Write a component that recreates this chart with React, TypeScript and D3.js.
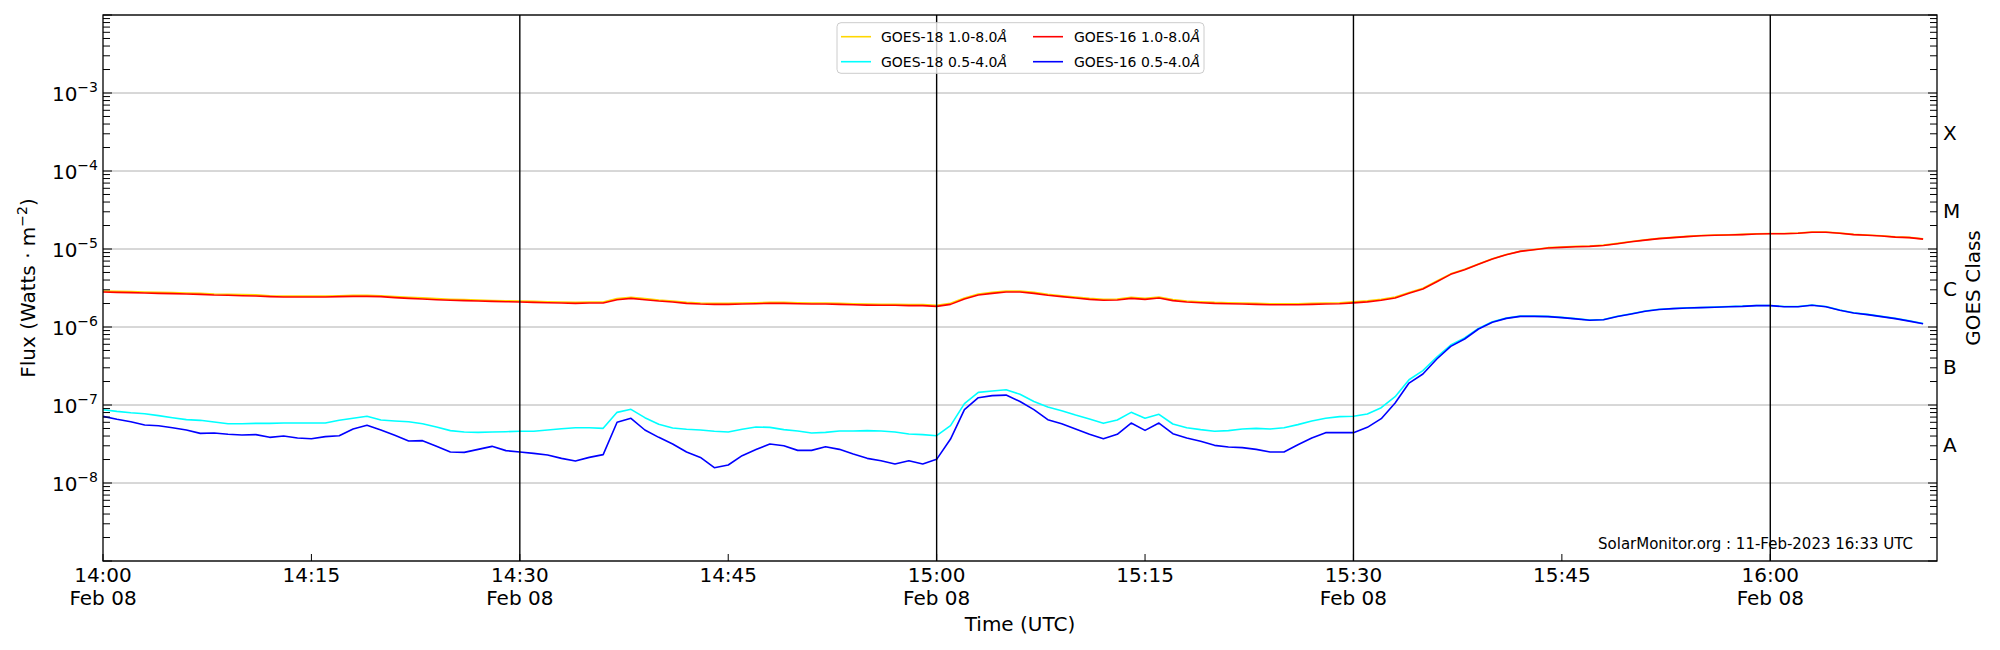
import React from "react";
import * as d3 from "d3";

// ---- data (1-minute samples starting 2023-02-08 14:00 UTC) ----
const START = Date.UTC(2023, 1, 8, 14, 0);

const goes18Long = [
  2.89e-6, 2.86e-6, 2.84e-6, 2.81e-6, 2.78e-6, 2.76e-6, 2.73e-6, 2.70e-6, 2.65e-6, 2.63e-6,
  2.60e-6, 2.58e-6, 2.52e-6, 2.49e-6, 2.49e-6, 2.49e-6, 2.49e-6, 2.52e-6, 2.54e-6, 2.54e-6,
  2.52e-6, 2.45e-6, 2.40e-6, 2.36e-6, 2.31e-6, 2.27e-6, 2.25e-6, 2.21e-6, 2.19e-6, 2.17e-6,
  2.15e-6, 2.13e-6, 2.11e-6, 2.09e-6, 2.07e-6, 2.09e-6, 2.09e-6, 2.31e-6, 2.40e-6, 2.31e-6,
  2.21e-6, 2.15e-6, 2.07e-6, 2.03e-6, 2.01e-6, 2.01e-6, 2.03e-6, 2.05e-6, 2.07e-6, 2.07e-6,
  2.05e-6, 2.03e-6, 2.03e-6, 2.01e-6, 1.99e-6, 1.97e-6, 1.96e-6, 1.96e-6, 1.94e-6, 1.94e-6,
  1.90e-6, 2.01e-6, 2.36e-6, 2.65e-6, 2.78e-6, 2.89e-6, 2.89e-6, 2.78e-6, 2.63e-6, 2.52e-6,
  2.42e-6, 2.33e-6, 2.27e-6, 2.29e-6, 2.40e-6, 2.33e-6, 2.42e-6, 2.25e-6, 2.15e-6, 2.11e-6,
  2.07e-6, 2.05e-6, 2.03e-6, 2.01e-6, 1.99e-6, 1.99e-6, 1.99e-6, 2.01e-6, 2.03e-6, 2.05e-6,
  2.10e-6, 2.16e-6, 2.27e-6, 2.42e-6, 2.76e-6, 3.14e-6, 3.88e-6, 4.80e-6, 5.50e-6, 6.42e-6,
  7.50e-6, 8.50e-6, 9.38e-6, 9.85e-6, 1.04e-5, 1.06e-5, 1.08e-5, 1.09e-5, 1.12e-5, 1.18e-5,
  1.25e-5, 1.31e-5, 1.37e-5, 1.41e-5, 1.45e-5, 1.49e-5, 1.51e-5, 1.52e-5, 1.54e-5, 1.57e-5,
  1.58e-5, 1.58e-5, 1.60e-5, 1.65e-5, 1.65e-5, 1.60e-5, 1.54e-5, 1.51e-5, 1.48e-5, 1.43e-5,
  1.41e-5, 1.35e-5,
];

const goes18Short = [
  8.71e-8, 8.29e-8, 7.97e-8, 7.74e-8, 7.30e-8, 6.88e-8, 6.49e-8, 6.36e-8, 6.05e-8, 5.76e-8,
  5.76e-8, 5.82e-8, 5.82e-8, 5.87e-8, 5.87e-8, 5.87e-8, 5.87e-8, 6.36e-8, 6.75e-8, 7.16e-8,
  6.42e-8, 6.24e-8, 6.11e-8, 5.76e-8, 5.22e-8, 4.69e-8, 4.51e-8, 4.46e-8, 4.51e-8, 4.55e-8,
  4.60e-8, 4.60e-8, 4.78e-8, 4.97e-8, 5.12e-8, 5.12e-8, 5.02e-8, 8.05e-8, 8.80e-8, 6.88e-8,
  5.65e-8, 5.07e-8, 4.88e-8, 4.78e-8, 4.60e-8, 4.51e-8, 4.88e-8, 5.22e-8, 5.17e-8, 4.83e-8,
  4.64e-8, 4.38e-8, 4.46e-8, 4.64e-8, 4.64e-8, 4.69e-8, 4.64e-8, 4.51e-8, 4.25e-8, 4.17e-8,
  4.04e-8, 5.43e-8, 1.04e-7, 1.45e-7, 1.51e-7, 1.57e-7, 1.37e-7, 1.11e-7, 9.43e-8, 8.46e-8,
  7.44e-8, 6.62e-8, 5.82e-8, 6.42e-8, 8.05e-8, 6.75e-8, 7.59e-8, 5.71e-8, 5.12e-8, 4.83e-8,
  4.60e-8, 4.69e-8, 4.92e-8, 5.02e-8, 4.92e-8, 5.12e-8, 5.60e-8, 6.24e-8, 6.75e-8, 7.09e-8,
  7.16e-8, 7.67e-8, 9.24e-8, 1.28e-7, 2.11e-7, 2.76e-7, 4.12e-7, 5.87e-7, 7.23e-7, 9.61e-7,
  1.17e-6, 1.30e-6, 1.38e-6, 1.38e-6, 1.37e-6, 1.33e-6, 1.28e-6, 1.23e-6, 1.25e-6, 1.37e-6,
  1.48e-6, 1.60e-6, 1.69e-6, 1.73e-6, 1.76e-6, 1.78e-6, 1.80e-6, 1.83e-6, 1.85e-6, 1.89e-6,
  1.89e-6, 1.83e-6, 1.83e-6, 1.91e-6, 1.83e-6, 1.65e-6, 1.52e-6, 1.45e-6, 1.37e-6, 1.29e-6,
  1.20e-6, 1.11e-6,
];

const goes16Long = [
  2.81e-6, 2.78e-6, 2.76e-6, 2.73e-6, 2.70e-6, 2.68e-6, 2.65e-6, 2.62e-6, 2.57e-6, 2.55e-6,
  2.52e-6, 2.50e-6, 2.45e-6, 2.42e-6, 2.42e-6, 2.42e-6, 2.42e-6, 2.45e-6, 2.47e-6, 2.47e-6,
  2.45e-6, 2.38e-6, 2.33e-6, 2.29e-6, 2.24e-6, 2.20e-6, 2.18e-6, 2.15e-6, 2.13e-6, 2.11e-6,
  2.09e-6, 2.07e-6, 2.05e-6, 2.03e-6, 2.01e-6, 2.03e-6, 2.03e-6, 2.24e-6, 2.33e-6, 2.24e-6,
  2.15e-6, 2.09e-6, 2.01e-6, 1.97e-6, 1.95e-6, 1.95e-6, 1.97e-6, 1.99e-6, 2.01e-6, 2.01e-6,
  1.99e-6, 1.97e-6, 1.97e-6, 1.95e-6, 1.93e-6, 1.91e-6, 1.90e-6, 1.90e-6, 1.88e-6, 1.88e-6,
  1.84e-6, 1.95e-6, 2.29e-6, 2.57e-6, 2.70e-6, 2.81e-6, 2.81e-6, 2.70e-6, 2.55e-6, 2.45e-6,
  2.35e-6, 2.26e-6, 2.20e-6, 2.22e-6, 2.33e-6, 2.26e-6, 2.35e-6, 2.18e-6, 2.09e-6, 2.05e-6,
  2.01e-6, 1.99e-6, 1.97e-6, 1.95e-6, 1.93e-6, 1.93e-6, 1.93e-6, 1.95e-6, 1.97e-6, 1.99e-6,
  2.04e-6, 2.10e-6, 2.20e-6, 2.35e-6, 2.70e-6, 3.07e-6, 3.81e-6, 4.73e-6, 5.43e-6, 6.36e-6,
  7.44e-6, 8.46e-6, 9.33e-6, 9.80e-6, 1.03e-5, 1.05e-5, 1.07e-5, 1.08e-5, 1.11e-5, 1.17e-5,
  1.24e-5, 1.30e-5, 1.36e-5, 1.40e-5, 1.44e-5, 1.48e-5, 1.50e-5, 1.51e-5, 1.53e-5, 1.56e-5,
  1.57e-5, 1.57e-5, 1.59e-5, 1.64e-5, 1.64e-5, 1.59e-5, 1.53e-5, 1.50e-5, 1.47e-5, 1.42e-5,
  1.40e-5, 1.34e-5,
];

const goes16Short = [
  7.16e-8, 6.55e-8, 6.11e-8, 5.54e-8, 5.43e-8, 5.12e-8, 4.78e-8, 4.33e-8, 4.38e-8, 4.21e-8,
  4.12e-8, 4.17e-8, 3.85e-8, 4.00e-8, 3.78e-8, 3.70e-8, 3.93e-8, 4.04e-8, 4.92e-8, 5.49e-8,
  4.78e-8, 4.08e-8, 3.46e-8, 3.49e-8, 2.95e-8, 2.50e-8, 2.47e-8, 2.70e-8, 2.95e-8, 2.60e-8,
  2.50e-8, 2.40e-8, 2.29e-8, 2.07e-8, 1.91e-8, 2.13e-8, 2.31e-8, 6.00e-8, 6.75e-8, 4.78e-8,
  3.85e-8, 3.16e-8, 2.50e-8, 2.13e-8, 1.57e-8, 1.70e-8, 2.24e-8, 2.68e-8, 3.16e-8, 3.01e-8,
  2.62e-8, 2.62e-8, 2.92e-8, 2.70e-8, 2.35e-8, 2.07e-8, 1.93e-8, 1.75e-8, 1.93e-8, 1.75e-8,
  2.01e-8, 3.66e-8, 8.71e-8, 1.24e-7, 1.32e-7, 1.34e-7, 1.11e-7, 8.71e-8, 6.49e-8, 5.76e-8,
  4.92e-8, 4.21e-8, 3.70e-8, 4.21e-8, 5.87e-8, 4.73e-8, 5.87e-8, 4.29e-8, 3.78e-8, 3.42e-8,
  3.04e-8, 2.89e-8, 2.84e-8, 2.70e-8, 2.50e-8, 2.50e-8, 3.10e-8, 3.78e-8, 4.42e-8, 4.42e-8,
  4.42e-8, 5.17e-8, 6.68e-8, 1.06e-7, 1.91e-7, 2.50e-7, 3.89e-7, 5.65e-7, 7.02e-7, 9.43e-7,
  1.15e-6, 1.29e-6, 1.37e-6, 1.37e-6, 1.36e-6, 1.32e-6, 1.27e-6, 1.22e-6, 1.24e-6, 1.36e-6,
  1.47e-6, 1.59e-6, 1.68e-6, 1.72e-6, 1.75e-6, 1.77e-6, 1.79e-6, 1.82e-6, 1.84e-6, 1.88e-6,
  1.88e-6, 1.82e-6, 1.82e-6, 1.90e-6, 1.82e-6, 1.64e-6, 1.51e-6, 1.44e-6, 1.36e-6, 1.28e-6,
  1.19e-6, 1.10e-6,
];

const seriesNames = ["GOES-18 1.0-8.0", "GOES-18 0.5-4.0", "GOES-16 1.0-8.0", "GOES-16 0.5-4.0"];
const seriesColors = ["#ffd700", "#00ffff", "#ff0000", "#0000ff"];
const seriesData = [goes18Long, goes18Short, goes16Long, goes16Short];

const xTickMinutes = [0, 15, 30, 45, 60, 75, 90, 105, 120];
const vLineMinutes = [30, 60, 90, 120];
const yDecades = [-8, -7, -6, -5, -4, -3];
const classLabels = ["A", "B", "C", "M", "X"];
const classExponents = [-7.5, -6.5, -5.5, -4.5, -3.5];

const W = 2000;
const H = 650;
const L = 103;
const R = 1937;
const T = 15;
const B = 561;
const FONT = "DejaVu Sans, sans-serif";

export default function App() {
  const x = d3
    .scaleUtc()
    .domain([new Date(START), new Date(START + 132 * 60000)])
    .range([L, R]);
  const y = d3.scaleLog().domain([1e-9, 1e-2]).range([B, T]);

  const times = goes16Long.map((_, i) => new Date(START + i * 60000));
  const line = d3
    .line<number>()
    .x((_, i) => x(times[i]))
    .y((v) => y(v));

  const minorTicks: number[] = [];
  for (let e = -9; e < -2; e++) {
    for (let k = 2; k <= 9; k++) minorTicks.push(k * Math.pow(10, e));
  }
  const majorTicks: number[] = [];
  for (let e = -9; e <= -2; e++) majorTicks.push(Math.pow(10, e));

  const fmt = d3.utcFormat("%H:%M");

  return (
    <svg
      width={W}
      height={H}
      style={{ position: "absolute", left: 0, top: 0, background: "#fff" }}
      fontFamily={FONT}
    >
      <rect x={0} y={0} width={W} height={H} fill="#fff" />
      <defs>
        <clipPath id="plot">
          <rect x={L} y={T} width={R - L} height={B - T} />
        </clipPath>
      </defs>

      {/* grid */}
      {majorTicks.map((v, i) => (
        <line key={"g" + i} x1={L} x2={R} y1={y(v)} y2={y(v)} stroke="#b0b0b0" strokeWidth={1} />
      ))}

      {/* data */}
      <g clipPath="url(#plot)">
        {seriesData.map((s, i) => (
          <path
            key={"s" + i}
            d={line(s) || ""}
            fill="none"
            stroke={seriesColors[i]}
            strokeWidth={1.6}
            strokeLinejoin="round"
          />
        ))}
      </g>

      {/* vertical black lines */}
      {vLineMinutes.map((m) => {
        const xx = x(new Date(START + m * 60000));
        return <line key={"v" + m} x1={xx} x2={xx} y1={T} y2={B} stroke="#000" strokeWidth={1.4} />;
      })}

      {/* y ticks left and right */}
      {minorTicks.map((v, i) => (
        <g key={"mt" + i}>
          <line x1={L} x2={L + 7} y1={y(v)} y2={y(v)} stroke="#000" strokeWidth={1} />
          <line x1={R - 7} x2={R} y1={y(v)} y2={y(v)} stroke="#000" strokeWidth={1} />
        </g>
      ))}
      {majorTicks.map((v, i) => (
        <g key={"Mt" + i}>
          <line x1={L} x2={L + 9} y1={y(v)} y2={y(v)} stroke="#000" strokeWidth={1} />
          <line x1={R - 9} x2={R} y1={y(v)} y2={y(v)} stroke="#000" strokeWidth={1} />
        </g>
      ))}

      {/* y tick labels */}
      {yDecades.map((e) => (
        <text key={"yl" + e} x={98} y={y(Math.pow(10, e)) + 7.5} textAnchor="end" fontSize={20} fill="#000">
          10
          <tspan dy={-9} fontSize={14}>
            {"\u2212" + Math.abs(e)}
          </tspan>
        </text>
      ))}

      {/* GOES class labels */}
      {classLabels.map((c, i) => (
        <text key={"c" + c} x={R + 6} y={y(Math.pow(10, classExponents[i])) + 7.5} fontSize={20} fill="#000">
          {c}
        </text>
      ))}

      {/* x ticks */}
      {xTickMinutes.map((m) => {
        const t = new Date(START + m * 60000);
        const xx = x(t);
        const showDate = m % 30 === 0;
        return (
          <g key={"xt" + m}>
            <line x1={xx} x2={xx} y1={B} y2={B - 7} stroke="#000" strokeWidth={1} />
            <text x={xx} y={581.5} textAnchor="middle" fontSize={20} fill="#000">
              {fmt(t)}
            </text>
            {showDate && (
              <text x={xx} y={604.5} textAnchor="middle" fontSize={20} fill="#000">
                {d3.utcFormat("%b %d")(t)}
              </text>
            )}
          </g>
        );
      })}

      {/* frame */}
      <rect x={L} y={T} width={R - L} height={B - T} fill="none" stroke="#000" strokeWidth={1.3} />

      {/* axis labels */}
      <text x={(L + R) / 2} y={630.5} textAnchor="middle" fontSize={20} fill="#000">
        Time (UTC)
      </text>
      <text
        transform={`translate(35, ${(T + B) / 2}) rotate(-90)`}
        textAnchor="middle"
        fontSize={20}
        fill="#000"
      >
        Flux (Watts · m
        <tspan dy={-8} fontSize={14}>
          {"\u22122"}
        </tspan>
        <tspan dy={8}>)</tspan>
      </text>
      <text
        transform={`translate(1980, ${(T + B) / 2}) rotate(-90)`}
        textAnchor="middle"
        fontSize={20}
        fill="#000"
      >
        GOES Class
      </text>

      {/* footer */}
      <text x={1913} y={549} textAnchor="end" fontSize={15} fill="#000">
        SolarMonitor.org : 11-Feb-2023 16:33 UTC
      </text>

      {/* legend */}
      <g>
        <rect x={837} y={22.7} width={367} height={50.6} rx={4} fill="#fff" fillOpacity={0.8} stroke="#cccccc" strokeWidth={1} />
        {seriesNames.map((n, i) => {
          const col = Math.floor(i / 2);
          const row = i % 2;
          const lx = col === 0 ? 841 : 1033;
          const tx = col === 0 ? 881 : 1074;
          const cy = row === 0 ? 36.7 : 61.7;
          return (
            <g key={"lg" + i}>
              <line x1={lx} x2={lx + 30} y1={cy} y2={cy} stroke={seriesColors[i]} strokeWidth={1.6} />
              <text x={tx} y={cy + 5} fontSize={14} fill="#000">
                {n}
                <tspan fontStyle="italic">Å</tspan>
              </text>
            </g>
          );
        })}
      </g>
    </svg>
  );
}
